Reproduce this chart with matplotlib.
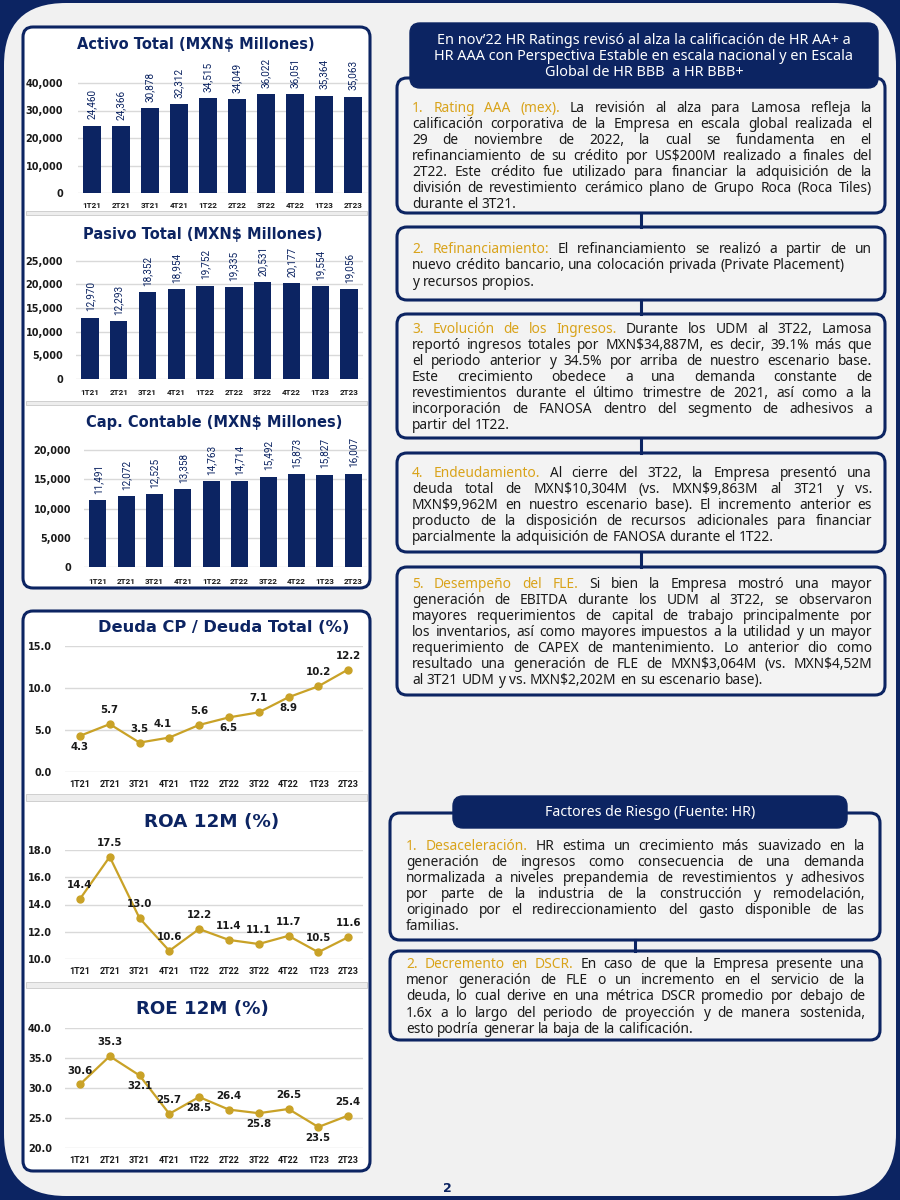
import matplotlib
matplotlib.use('Agg')
import matplotlib.pyplot as plt
from matplotlib.patches import FancyBboxPatch, Rectangle
import numpy as np

# ---- data ----
quarters = ['1T21', '2T21', '3T21', '4T21', '1T22', '2T22', '3T22', '4T22', '1T23', '2T23']
activo = [24460, 24366, 30878, 32312, 34515, 34049, 36022, 36051, 35364, 35063]
pasivo = [12970, 12293, 18352, 18954, 19752, 19335, 20531, 20177, 19554, 19056]
capital = [11491, 12072, 12525, 13358, 14763, 14714, 15492, 15873, 15827, 16007]
deuda_cp = [4.3, 5.7, 3.5, 4.1, 5.6, 6.5, 7.1, 8.9, 10.2, 12.2]
roa = [14.4, 17.5, 13.0, 10.6, 12.2, 11.4, 11.1, 11.7, 10.5, 11.6]
roe = [30.6, 35.3, 32.1, 25.7, 28.5, 26.4, 25.8, 26.5, 23.5, 25.4]

# label placement: 1 above the point, -1 below
deuda_side = [-1, 1, 1, 1, 1, -1, 1, -1, 1, 1]
roa_side = [1] * 10
roe_side = [1, 1, -1, 1, -1, 1, -1, 1, -1, 1]

header_lines = ["En nov’22 HR Ratings revisó al alza la calificación de HR AA+ a",
                "HR AAA con Perspectiva Estable en escala nacional y en Escala",
                "Global de HR BBB  a HR BBB+"]
box1 = ["1. Rating AAA (mex). La revisión al alza para Lamosa refleja la",
        "calificación corporativa de la Empresa en escala global realizada el",
        "29 de noviembre de 2022, la cual se fundamenta en el",
        "refinanciamiento de su crédito por US$200M realizado a finales del",
        "2T22. Este crédito fue utilizado para financiar la adquisición de la",
        "división de revestimiento cerámico plano de Grupo Roca (Roca Tiles)",
        "durante el 3T21."]
box2 = ["2. Refinanciamiento:  El refinanciamiento se realizó a partir de un",
        "nuevo crédito bancario, una colocación privada (Private Placement)",
        "y recursos propios."]
box3 = ["3. Evolución de los Ingresos. Durante los UDM al 3T22, Lamosa",
        "reportó ingresos totales por MXN$34,887M, es decir, 39.1% más que",
        "el periodo anterior y 34.5% por arriba de nuestro escenario base.",
        "Este crecimiento obedece a una demanda constante de",
        "revestimientos durante el último trimestre de 2021, así como a la",
        "incorporación de FANOSA dentro del segmento de adhesivos a",
        "partir del 1T22."]
box4 = ["4. Endeudamiento. Al cierre del 3T22, la Empresa presentó una",
        "deuda total de MXN$10,304M (vs. MXN$9,863M al 3T21 y vs.",
        "MXN$9,962M en nuestro escenario base). El incremento anterior es",
        "producto de la disposición de recursos adicionales para financiar",
        "parcialmente la adquisición de FANOSA durante el 1T22."]
box5 = ["5. Desempeño del FLE. Si bien la Empresa mostró una mayor",
        "generación de EBITDA durante los UDM al 3T22, se observaron",
        "mayores requerimientos de capital de trabajo principalmente por",
        "los inventarios, así como mayores impuestos a la utilidad y un mayor",
        "requerimiento de CAPEX de mantenimiento. Lo anterior dio como",
        "resultado una  generación de FLE de MXN$3,064M (vs. MXN$4,52M",
        "al 3T21 UDM y vs. MXN$2,202M en su escenario base)."]
riesgo_title = "Factores de Riesgo (Fuente: HR)"
riesgo1 = ["1. Desaceleración. HR estima un crecimiento más suavizado en la",
           "generación de ingresos como consecuencia de una demanda",
           "normalizada a niveles prepandemia de revestimientos y adhesivos",
           "por parte de la industria de la construcción y remodelación,",
           "originado por el redireccionamiento del gasto disponible de las",
           "familias."]
riesgo2 = ["2. Decremento en DSCR. En caso de que la Empresa presente una",
           "menor generación de FLE o un incremento en el servicio de la",
           "deuda, lo cual derive en una métrica DSCR promedio por debajo de",
           "1.6x a lo largo del periodo de proyección y de manera sostenida,",
           "esto podría generar la baja de la calificación."]

# ---- style ----
W, H = 900, 1200
NAVY = '#0c2462'
GOLD = '#c9a227'
GOLD_TXT = '#d9a31a'
BG = '#f1f1f1'
BOXFILL = '#f3f3f3'
GRID = '#d9d9d9'
TXT = '#1a1a1a'
BODY = 'Noto Sans'

fig = plt.figure(figsize=(9, 12), dpi=100)
fig.patch.set_facecolor(NAVY)
bg = fig.add_axes([0, 0, 1, 1])
bg.set_xlim(0, W)
bg.set_ylim(H, 0)
bg.axis('off')
renderer = fig.canvas.get_renderer()


def rect(x0, y0, x1, y1):
    return [x0 / W, 1 - y1 / H, (x1 - x0) / W, (y1 - y0) / H]


def rbox(x0, y0, x1, y1, fc, ec=NAVY, lw=2.2, r=10, z=1):
    bg.add_patch(FancyBboxPatch((x0, y0), x1 - x0, y1 - y0,
                                boxstyle=f'round,pad=0,rounding_size={r}',
                                fc=fc, ec=ec, lw=lw, zorder=z))


_probe = bg.text(0, 0, '')


def measure(s, size, weight='normal', family=BODY):
    _probe.set_text(s)
    _probe.set_fontsize(size)
    _probe.set_fontweight(weight)
    _probe.set_fontfamily(family)
    return _probe.get_window_extent(renderer).width


def fit_size(s, width, weight='bold', family='DejaVu Sans'):
    return 10 * width / measure(s, 10, weight, family)


def fit_text(xc, yc, s, width, color, weight='bold', family='DejaVu Sans'):
    bg.text(xc, yc, s, fontsize=fit_size(s, width, weight, family), color=color,
            weight=weight, family=family, ha='center', va='center', zorder=5)


# page frame
bg.add_patch(FancyBboxPatch((4, 3), 892, 1193, boxstyle='round,pad=0,rounding_size=62',
                            fc=BG, ec='none', zorder=0))
bg.text(447, 1188, '2', color=NAVY, fontsize=9, weight='bold', ha='center', va='center')

# left panels
rbox(23, 27, 370, 588, 'white')
rbox(23, 611, 370, 1171, 'white')
for y0, y1 in [(211, 215), (401, 405), (794, 801), (982, 988)]:
    bg.add_patch(Rectangle((26, y0), 341, y1 - y0, fc='#ededed', ec='#c9c9c9', lw=0.6, zorder=2))


def bar_chart(vals, left, right, top, bottom, ymax, ticks, xpad, ypad):
    ax = fig.add_axes(rect(left, top, right, bottom))
    ax.set_facecolor('none')
    x = np.arange(len(quarters))
    ax.bar(x, vals, width=0.6, color=NAVY, zorder=3)
    for xi, v in zip(x, vals):
        ax.annotate(f'{v:,}', (xi, v), xytext=(0, 4.5), textcoords='offset points',
                    rotation=90, ha='center', va='bottom', fontsize=7.2,
                    color=NAVY, family='Roboto')
    ax.set_xlim(-0.5, len(quarters) - 0.5)
    ax.set_ylim(0, ymax)
    ax.set_yticks(ticks)
    ax.set_yticklabels([f'{t:,}' for t in ticks], fontsize=7, weight='bold',
                       family='DejaVu Sans', color=TXT)
    ax.set_xticks(x)
    ax.set_xticklabels(quarters, fontsize=5.9, weight='bold', family='Roboto', color=TXT)
    ax.grid(axis='y', color=GRID, lw=1)
    ax.set_axisbelow(True)
    for s in ax.spines.values():
        s.set_visible(False)
    ax.tick_params(axis='x', length=0, pad=xpad)
    ax.tick_params(axis='y', length=0, pad=ypad)
    return ax


def line_chart(vals, sides, top, bottom, ylim, ticks):
    ax = fig.add_axes(rect(65, top, 363, bottom))
    ax.set_facecolor('none')
    x = np.arange(len(quarters))
    ax.plot(x, vals, color=GOLD, lw=1.6, marker='o', ms=5, zorder=3, clip_on=False)
    for i, (xi, v, sd) in enumerate(zip(x, vals, sides)):
        dx = -5 if (vals is deuda_cp and i == 3) else 0
        ax.annotate(f'{v:.1f}', (xi, v), xytext=(dx, 10 if sd > 0 else -7.8),
                    textcoords='offset points', ha='center', va='center',
                    fontsize=7.4, weight='bold', color=TXT, family='DejaVu Sans', zorder=4)
    ax.set_xlim(-0.5, len(quarters) - 0.5)
    ax.set_ylim(*ylim)
    ax.set_yticks(ticks)
    ax.set_yticklabels([f'{t:.1f}' for t in ticks], fontsize=7, weight='bold',
                       family='DejaVu Sans', color=TXT)
    ax.set_xticks(x)
    ax.set_xticklabels(quarters, fontsize=6.5, weight='bold', family='Roboto', color=TXT)
    ax.grid(axis='y', color=GRID, lw=1)
    ax.set_axisbelow(True)
    for s in ax.spines.values():
        s.set_visible(False)
    ax.tick_params(axis='x', length=0, pad=6)
    ax.tick_params(axis='y', length=0, pad=9.4)
    return ax


bar_chart(activo, 77.5, 367.5, 55.5, 193, 50000, range(0, 40001, 10000), 6.6, 10.4)
bar_chart(pasivo, 75.6, 363.4, 237, 379, 30000, range(0, 25001, 5000), 7.2, 9)
bar_chart(capital, 83.8, 367.2, 421, 567, 25000, range(0, 20001, 5000), 8, 9.2)
line_chart(deuda_cp, deuda_side, 646, 772, (0, 15), [0, 5, 10, 15])
line_chart(roa, roa_side, 850, 959, (10, 18), [10, 12, 14, 16, 18])
line_chart(roe, roe_side, 1028, 1148, (20, 40), [20, 25, 30, 35, 40])

fit_text(196, 45, 'Activo Total (MXN$ Millones)', 238, NAVY)
fit_text(203, 234, 'Pasivo Total (MXN$ Millones)', 240, NAVY)
fit_text(214.5, 423, 'Cap. Contable (MXN$ Millones)', 255, NAVY)
fit_text(224, 627, 'Deuda CP / Deuda Total (%)', 252, NAVY)
fit_text(212, 822, 'ROA 12M (%)', 136, NAVY)
fit_text(202, 1009, 'ROE 12M (%)', 134, NAVY)

# ---- right column ----
paragraphs = [
    # lines, gold words, x0, x1, first line centre, line step, justified lines
    (box1, 4, 412, 872, 107, 16, None),
    (box2, 2, 412, 872, 248, 16.5, [True, False, False]),
    (box3, 5, 412, 872, 328, 16, None),
    (box4, 2, 412, 872, 472, 16, None),
    (box5, 4, 412, 872, 583, 16, None),
    (riesgo1, 2, 406, 865, 845, 16, None),
    (riesgo2, 4, 406, 865, 963, 16.3, None),
]

base = 10
sp = measure('a a', base) - measure('aa', base)
ratio = 1.0
for lines, ng, x0, x1, yc, dy, just in paragraphs:
    for ln in lines:
        ws = ln.split()
        nat = sum(measure(w, base) for w in ws) + sp * (len(ws) - 1)
        ratio = min(ratio, (x1 - x0) / nat)
BODY_SIZE = base * ratio * 0.99


def para(lines, n_gold, x0, x1, yc, dy, justify=None, size=BODY_SIZE):
    if justify is None:
        justify = [True] * (len(lines) - 1) + [False]
    space = measure('a a', size) - measure('aa', size)
    k = 0
    for li, ln in enumerate(lines):
        words = ln.split()
        widths = [measure(w, size) for w in words]
        gap = space
        if justify[li] and len(words) > 1:
            gap = (x1 - x0 - sum(widths)) / (len(words) - 1)
        x = x0
        y = yc + li * dy + 0.34 * size * 100 / 72
        for w, ww in zip(words, widths):
            col = GOLD_TXT if k < n_gold else TXT
            bg.text(x, y, w, fontsize=size, color=col, family=BODY,
                    ha='left', va='baseline', zorder=5)
            x += ww + gap
            k += 1


# boxes and connectors
for x0, y0, x1, y1 in [(397, 78, 885, 213), (397, 227, 885, 300), (397, 314, 885, 438),
                       (397, 453, 885, 552), (397, 567, 885, 695),
                       (390, 813, 880, 940), (390, 951, 880, 1040)]:
    rbox(x0, y0, x1, y1, BOXFILL)
for xc, y0, y1 in [(641, 213, 227), (641, 300, 314), (641, 438, 453), (641, 552, 567),
                   (635, 940, 951)]:
    bg.plot([xc, xc], [y0, y1], color=NAVY, lw=2.2, zorder=1)
rbox(410, 23, 878, 88, NAVY, lw=1)
rbox(453, 796, 847, 828, NAVY, lw=1)

head_size = fit_size(header_lines[0], 414, 'normal', BODY)
for i, ln in enumerate(header_lines):
    bg.text(644, 41 + i * 15.5, ln, color='white', fontsize=head_size, family=BODY,
            ha='center', va='center', zorder=5)
fit_text(650, 812, riesgo_title, 211, 'white', 'normal', BODY)

for lines, ng, x0, x1, yc, dy, just in paragraphs:
    para(lines, ng, x0, x1, yc, dy, just)

_probe.remove()
fig.savefig('out.png', dpi=100, facecolor=fig.get_facecolor())
